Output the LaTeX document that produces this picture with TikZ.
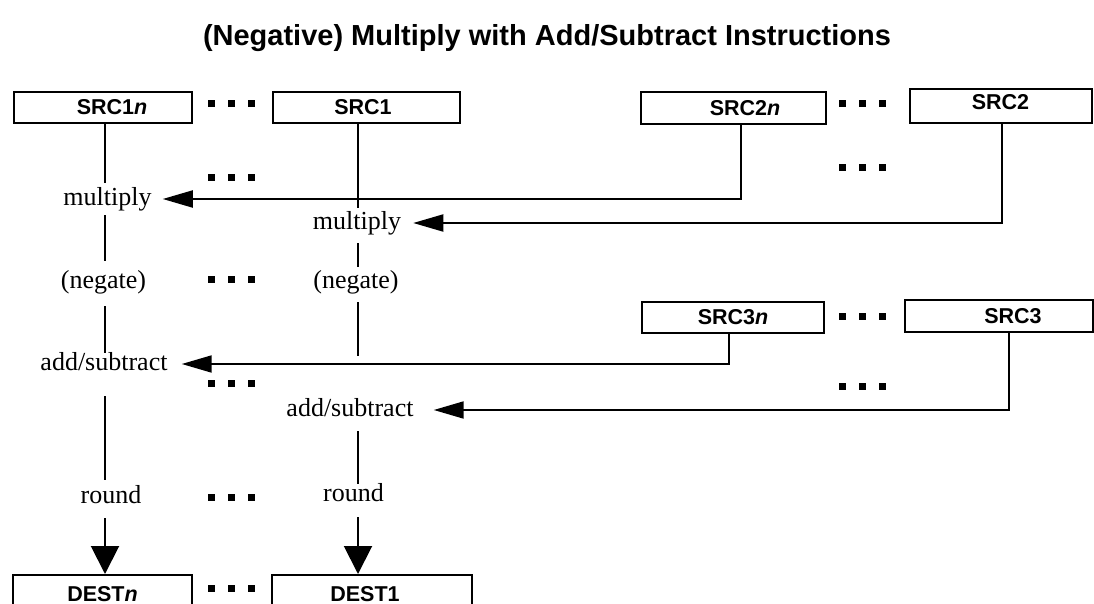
\documentclass[tikz,border=0pt]{standalone}
\usepackage{fontspec}
\setmainfont{Liberation Serif}
\setsansfont{Liberation Sans}
\usetikzlibrary{arrows.meta}
\begin{document}
\begin{tikzpicture}[x=1pt,y=-1pt,
  box/.style={draw, line width=2pt, minimum height=31pt, inner sep=0pt,
    font=\sffamily\bfseries\fontsize{21.5}{24}\selectfont},
  op/.style={inner sep=0pt, text height=17pt, text depth=5pt,
    font=\fontsize{26}{30}\selectfont},
  ln/.style={line width=2pt},
  harr/.style={line width=2pt, -{Triangle[length=30pt,width=17pt]}},
  varr/.style={line width=2pt, -{Triangle[length=28pt,width=28pt]}},
  tdots/.pic={\foreach \i in {-1,0,1} \fill (\i*20-3.5,-3.5) rectangle ++(7,7);}
]
\useasboundingbox (0,0) rectangle (1094,604);
\clip (0,0) rectangle (1094,604);

\node[font=\sffamily\bfseries\fontsize{29}{32}\selectfont] (title) at (547,38)
  {(Negative) Multiply with Add/Subtract Instructions};

% boxes
\node[box, minimum width=178pt] (src1n) at (103,107.5) {\hspace*{18pt}SRC1\textit{n}};
\node[box, minimum width=187pt] (src1) at (366.5,107.5) {SRC1\hspace*{7pt}};
\node[box, minimum width=185pt, minimum height=32pt] (src2n) at (733.5,108) {\hspace*{23pt}SRC2\textit{n}};
\node[box, minimum width=182pt, minimum height=34pt] (src2) at (1000.5,106) {\raisebox{4pt}[\height][\depth]{SRC2}};
\node[box, minimum width=182pt] (src3n) at (733,317.5) {SRC3\textit{n}};
\node[box, minimum width=188pt, minimum height=32pt] (src3) at (999,316) {\hspace*{28pt}SRC3};
\node[box, minimum width=179pt, minimum height=38pt] (destn) at (102.5,594) {DEST\textit{n}};
\node[box, minimum width=200pt, minimum height=38pt] (dest1) at (372,594) {DEST1\hspace*{14pt}};

% operation labels
\node[op] (mul1) at (107.5,199) {multiply};
\node[op] (mul2) at (357,223) {multiply};
\node[op] (neg1) at (103.5,282) {(negate)};
\node[op] (neg2) at (356,282) {(negate)};
\node[op] (add1) at (104,364) {add/subtract};
\node[op] (add2) at (350,410) {add/subtract};
\node[op] (rnd1) at (111,497) {round};
\node[op] (rnd2) at (353.5,495) {round};

\coordinate (c1) at (105,0);
\coordinate (c2) at (358,0);

% column 1
\draw[ln, shorten >=5pt] (c1 |- src1n.south) -- (c1 |- mul1.north);
\draw[ln, shorten <=5pt, shorten >=10pt] (c1 |- mul1.south) -- (c1 |- neg1.north);
\draw[ln, shorten <=13pt] (c1 |- neg1.south) -- (c1 |- add1.north);
\draw[ln, shorten <=21pt, shorten >=6pt] (c1 |- add1.south) -- (c1 |- rnd1.north);
\draw[varr, shorten <=10pt] (c1 |- rnd1.south) -- (c1 |- destn.north);

% column 2
\draw[ln, shorten >=4pt] (c2 |- src1.south) -- (c2 |- mul2.north);
\draw[ln, shorten <=9pt, shorten >=4pt] (c2 |- mul2.south) -- (c2 |- neg2.north);
\draw[ln, shorten <=9pt, shorten >=43pt] (c2 |- neg2.south) -- (c2 |- add2.north);
\draw[ln, shorten <=10pt] (c2 |- add2.south) -- (c2 |- rnd2.north);
\draw[varr, shorten <=11pt] (c2 |- rnd2.south) -- (c2 |- dest1.north);

% horizontal arrows
\draw[harr, shorten >=11pt] ([xshift=7.5pt]src2n.south) |- (mul1.east);
\draw[harr, shorten >=12pt] ([xshift=1.5pt]src2.south) |- (mul2.east);
\draw[harr, shorten >=14pt] ([xshift=-4pt]src3n.south) |- (add1.east);
\draw[harr, shorten >=20pt] ([xshift=10pt]src3.south) |- (add2.east);

% ellipsis dots
\foreach \y in {104,178,279,383,497,588} \pic at (231,\y) {tdots};
\foreach \y in {104,168,316,386} \pic at (862,\y) {tdots};
\end{tikzpicture}
\end{document}
